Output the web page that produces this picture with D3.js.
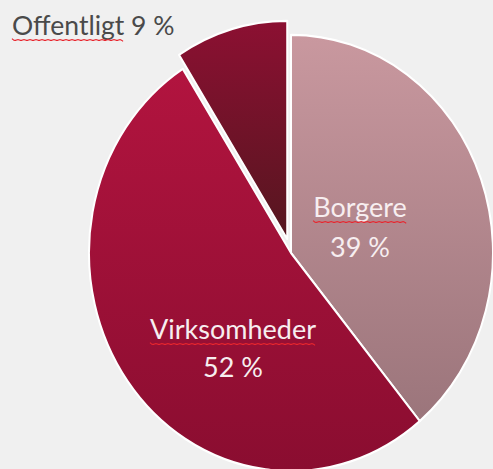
<!DOCTYPE html>
<html>
<head>
<meta charset="utf-8">
<title>fordeling</title>
<script src="https://cdn.jsdelivr.net/npm/d3@7"></script>
<style>
  body{ margin:0; background:#f0f0f0; }
  svg{ display:block; }
  .lbl{ font-family: Lato, "Open Sans", sans-serif; font-weight:400; }
</style>
</head>
<body>
<div id="container"></div>
<script>
  // data
  var categories = ["Borgere", "Virksomheder", "Offentligt"];
  var shares = [39, 52, 9];
  var shareLabels = ["39 %", "52 %", "9 %"];

  // slice colours (top -> bottom of each slice)
  var topColors = ["#c9989f", "#b2143f", "#8c1032"];
  var bottomColors = ["#9b757b", "#8a0d30", "#55161f"];

  var width = 493, height = 469;
  var cx = 291, cy = 253, r = 202, squash = 1.08;
  var explode = [0, 0, 13.5];

  var svg = d3.select("#container").append("svg")
      .attr("width", width)
      .attr("height", height);

  svg.append("rect").attr("width", width).attr("height", height).attr("fill", "#f0f0f0");

  var defs = svg.append("defs");
  categories.forEach(function(c, i){
    var g = defs.append("linearGradient")
      .attr("id", "grad" + i)
      .attr("x1", 0).attr("y1", 0).attr("x2", 0).attr("y2", 1);
    g.append("stop").attr("offset", "0%").attr("stop-color", topColors[i]);
    g.append("stop").attr("offset", "100%").attr("stop-color", bottomColors[i]);
  });

  var data = categories.map(function(c, i){ return {name:c, value:shares[i], label:shareLabels[i], idx:i}; });

  var pie = d3.pie().sort(null).value(function(d){ return d.value; });
  var arc = d3.arc().innerRadius(0).outerRadius(r);
  var arcs = pie(data);

  var pieGroup = svg.append("g")
      .attr("transform", "translate(" + cx + "," + cy + ") scale(1," + squash + ")");

  pieGroup.selectAll("path.slice")
    .data(arcs)
    .enter().append("path")
    .attr("class", "slice")
    .attr("transform", function(d){
      var mid = (d.startAngle + d.endAngle) / 2;
      var e = explode[d.data.idx];
      return "translate(" + (Math.sin(mid) * e) + "," + (-Math.cos(mid) * e) + ")";
    })
    .attr("d", arc)
    .attr("fill", function(d){ return "url(#grad" + d.data.idx + ")"; })
    .attr("stroke", "#fff")
    .attr("stroke-width", 2)
    .attr("stroke-linejoin", "round");

  // wavy spell-check line
  var wave = d3.line().curve(d3.curveBasis);
  function squiggle(x0, x1, y){
    var pts = [], k = 0;
    for (var x = x0; x <= x1; x += 3){ pts.push([x, y + (k % 2 ? 1.4 : -1.4)]); k++; }
    svg.append("path")
      .attr("d", wave(pts))
      .attr("fill", "none")
      .attr("stroke", "#e8262e")
      .attr("stroke-width", 1.2);
  }

  // label layout (name line / value line)
  var labelPos = [
    {x: 360, y: 217, dy: 40, fill: "#f7eef0", size: 27},
    {x: 233, y: 339, dy: 38, fill: "#f7eef0", size: 27}
  ];

  labelPos.forEach(function(p, i){
    var d = data[i];
    var t = svg.append("text")
      .attr("class", "lbl")
      .attr("x", p.x).attr("y", p.y)
      .attr("text-anchor", "middle")
      .attr("font-size", p.size)
      .attr("fill", p.fill)
      .text(d.name);
    var w = t.node().getComputedTextLength();
    squiggle(p.x - w / 2, p.x + w / 2, p.y + 5);
    svg.append("text")
      .attr("class", "lbl")
      .attr("x", p.x).attr("y", p.y + p.dy)
      .attr("text-anchor", "middle")
      .attr("font-size", p.size)
      .attr("fill", p.fill)
      .text(d.label);
  });

  // outside label for the small slice
  var off = svg.append("text")
    .attr("class", "lbl")
    .attr("x", 12).attr("y", 35)
    .attr("font-size", 26.5)
    .attr("fill", "#4a4a4a")
    .text(data[2].name + " " + data[2].label);
  var ow = off.node().getSubStringLength(0, data[2].name.length);
  squiggle(12, 12 + ow, 40);
</script>
</body>
</html>
